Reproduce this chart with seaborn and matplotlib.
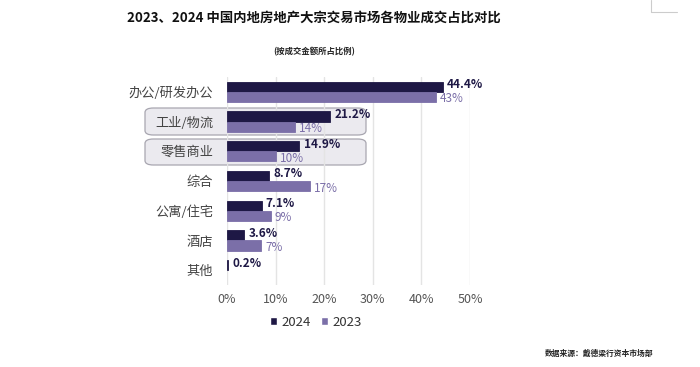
import pandas as pd
import seaborn as sns
from matplotlib import pyplot as plt
from matplotlib.patches import FancyBboxPatch
from matplotlib.lines import Line2D

categories = ["办公/研发办公", "工业/物流", "零售商业", "综合", "公寓/住宅", "酒店", "其他"]
share_2024 = [44.4, 21.2, 14.9, 8.7, 7.1, 3.6, 0.2]
share_2023 = [43, 14, 10, 17, 9, 7, 0]
labels_2024 = ["44.4%", "21.2%", "14.9%", "8.7%", "7.1%", "3.6%", "0.2%"]
labels_2023 = ["43%", "14%", "10%", "17%", "9%", "7%", ""]
years = ["2024", "2023"]
x_ticks = [0, 10, 20, 30, 40, 50]

DARK = "#1e1845"
LIGHT = "#7b6fa8"

df = pd.DataFrame({
    "category": categories * 2,
    "year": ["2024"] * len(categories) + ["2023"] * len(categories),
    "share": share_2024 + share_2023,
})

sns.set_theme(style="white")
plt.rcParams["font.family"] = ["Noto Sans CJK SC", "DejaVu Sans"]

fig = plt.figure(figsize=(7, 3.67), dpi=100)
ax = fig.add_axes([0.3243, 0.2234, 0.347, 0.567])
ax.set_zorder(2)
ax.set_facecolor("none")

# highlight boxes behind rows 2 and 3
for y0, y1 in [(108, 135), (139, 165)]:
    box = FancyBboxPatch((145 / 700, 1 - y1 / 367), 221 / 700, (y1 - y0) / 367,
                         boxstyle="round,pad=0,rounding_size=0.012",
                         transform=fig.transFigure, facecolor="#ebeaef",
                         edgecolor="#a8a6b0", linewidth=0.9, zorder=-1)
    fig.patches.append(box)

sns.barplot(data=df, y="category", x="share", hue="year", hue_order=years,
            order=categories, palette=[DARK, LIGHT], width=0.68, orient="h",
            saturation=1, ax=ax, zorder=3)

ax.set_xlim(0, 50)
ax.set_ylim(6.5, -0.5)
ax.set_xticks(x_ticks)
ax.set_xticklabels([f"{t}%" for t in x_ticks], fontsize=9, color="#555555")
ax.tick_params(axis="y", labelsize=9.5, labelcolor="#444444", pad=10, length=0)
ax.tick_params(axis="x", pad=6, length=0)
ax.set_xlabel("")
ax.set_ylabel("")
for s in ax.spines.values():
    s.set_visible(False)
ax.grid(axis="x", color="#e4e4e4", linewidth=1, zorder=0)
ax.set_axisbelow(True)

bars_2024, bars_2023 = ax.containers[0], ax.containers[1]
for bars in (bars_2024, bars_2023):
    for b in bars:
        b.set_edgecolor(b.get_facecolor())
        b.set_linewidth(0.6 if b.get_width() > 0 else 0)

for t in ax.bar_label(bars_2024, labels=labels_2024, padding=3, fontsize=8.5,
                      fontweight="bold", color=DARK, clip_on=False):
    t.xyann = (3, 1.5)
for t in ax.bar_label(bars_2023, labels=labels_2023, padding=3, fontsize=8.5,
                      color=LIGHT, clip_on=False):
    t.xyann = (3, -1.5)

leg = ax.legend(loc="upper center", bbox_to_anchor=(0.366, -0.09), ncol=2,
                frameon=False, fontsize=9.5, handlelength=0.55, handleheight=0.55,
                handletextpad=0.3, columnspacing=0.8)
for t in leg.get_texts():
    t.set_color("#333333")

fig.text(0.449, 0.951, "2023、2024 中国内地房地产大宗交易市场各物业成交占比对比",
         ha="center", va="center", fontsize=9.6, fontweight="bold", color="#111111")
fig.text(0.449, 0.858, "(按成交金额所占比例)", ha="center", va="center",
         fontsize=6, fontweight="bold", color="#222222")
fig.text(0.856, 0.037, "数据来源：戴德梁行资本市场部", ha="center", va="center",
         fontsize=5.6, fontweight="bold", color="#222222")

fig.lines.append(Line2D([651 / 700, 651 / 700, 677 / 700], [1, 1 - 12 / 367, 1 - 12 / 367],
                        transform=fig.transFigure, color="#cccccc", linewidth=0.8))

fig.savefig("out.png", dpi=100)
